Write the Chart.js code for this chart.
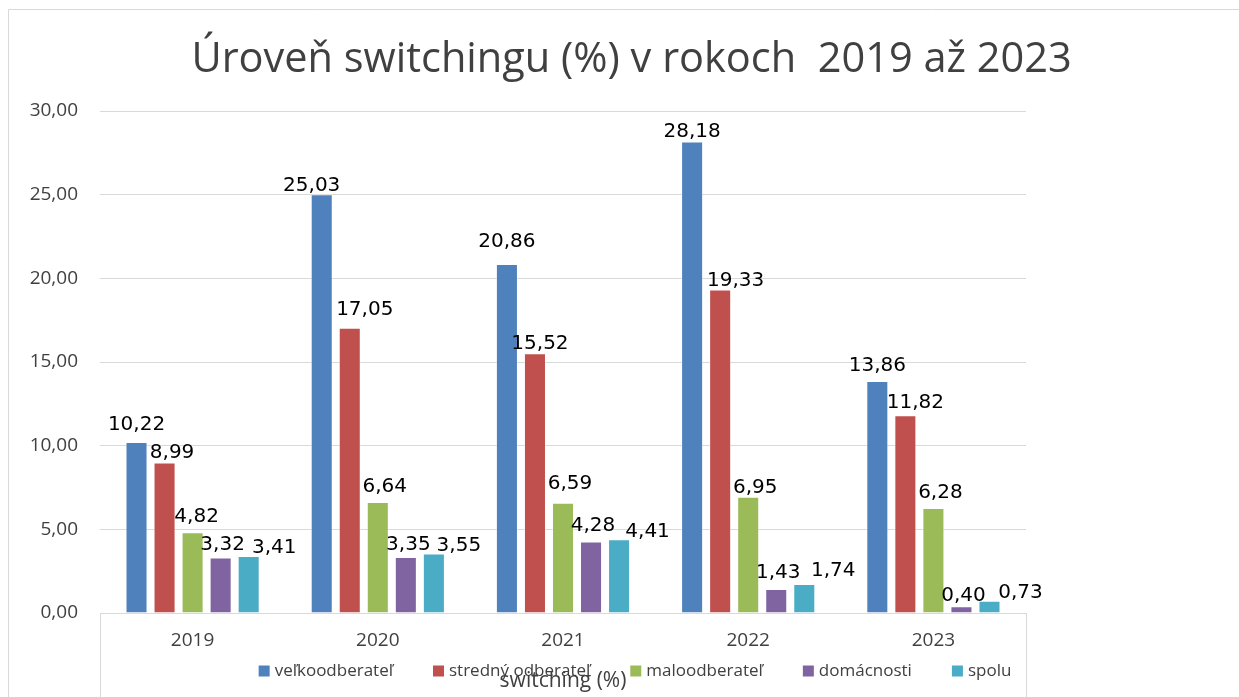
<!DOCTYPE html>
<html>
<head>
<meta charset="utf-8">
<script src="https://cdn.jsdelivr.net/npm/chart.js@4.4.1/dist/chart.umd.min.js"></script>
<style>
html,body{margin:0;padding:0;background:#fff;}
#wrap{position:absolute;left:0;top:0;width:1239px;height:697px;}
</style>
</head>
<body>
<div id="wrap"><canvas id="c" width="1239" height="697"></canvas></div>
<script>
const categories = ['2019', '2020', '2021', '2022', '2023'];
const seriesNames = ['veľkoodberateľ', 'stredný odberateľ', 'maloodberateľ', 'domácnosti', 'spolu'];
const velkoodberatel = [10.22, 25.03, 20.86, 28.18, 13.86];
const strednyOdberatel = [8.99, 17.05, 15.52, 19.33, 11.82];
const maloodberatel = [4.82, 6.64, 6.59, 6.95, 6.28];
const domacnosti = [3.32, 3.35, 4.28, 1.43, 0.40];
const spolu = [3.41, 3.55, 4.41, 1.74, 0.73];
const yTickLabels = ['0,00', '5,00', '10,00', '15,00', '20,00', '25,00', '30,00'];
const colors = ['#4F81BD', '#C0504D', '#9BBB59', '#8064A2', '#4BACC6'];
const chartTitle = 'Úroveň switchingu (%) v rokoch  2019 až 2023';
const xTitle = 'switching (%)';

const seriesData = [velkoodberatel, strednyOdberatel, maloodberatel, domacnosti, spolu];

// manual nudges of the data labels (relative to the bar top, px), as in the original
const labelDx = [
  [0, -10, 0, 0, 0],
  [7.5, 15, 5, 15.5, 10],
  [4, 7, 7, 7, 7],
  [2, 2.5, 2, 2, 2],
  [25.5, 25, 28.5, 29, 31]
];
const labelGap = [
  [12, 3, 17, 4, 10],
  [5, 12.5, 4, 4, 7],
  [10.5, 9.5, 14, 4, 10],
  [7, 6.5, 10, 11.5, 5.5],
  [2.5, 2.5, 2.5, 7.5, 2.5]
];

const fmt = v => v.toFixed(2).replace('.', ',');

const decoPlugin = {
  id: 'deco',
  beforeDraw(chart) {
    const ctx = chart.ctx;
    ctx.save();
    ctx.strokeStyle = '#d9d9d9';
    ctx.lineWidth = 1;
    ctx.beginPath();
    ctx.moveTo(8.5, 697);
    ctx.lineTo(8.5, 9.5);
    ctx.lineTo(1239, 9.5);
    ctx.stroke();
    const a = chart.chartArea;
    ctx.beginPath();
    ctx.moveTo(Math.round(a.left) + 0.5, a.bottom);
    ctx.lineTo(Math.round(a.left) + 0.5, 697);
    ctx.moveTo(Math.round(a.right) + 0.5, a.bottom);
    ctx.lineTo(Math.round(a.right) + 0.5, 697);
    ctx.stroke();
    ctx.restore();
  },
  afterDatasetsDraw(chart) {
    const ctx = chart.ctx;
    ctx.save();
    ctx.font = '20px "DejaVu Sans"';
    ctx.fillStyle = '#000';
    ctx.textAlign = 'center';
    ctx.textBaseline = 'alphabetic';
    chart.data.datasets.forEach((ds, i) => {
      const meta = chart.getDatasetMeta(i);
      meta.data.forEach((el, j) => {
        ctx.fillText(fmt(ds.data[j]), el.x + labelDx[i][j], el.y - labelGap[i][j]);
      });
    });
    // legend
    ctx.font = '17px "Open Sans"';
    ctx.textAlign = 'left';
    ctx.textBaseline = 'middle';
    const box = 11, gapText = 5, gapItem = 40;
    const widths = chart.data.datasets.map(ds => box + gapText + ctx.measureText(ds.label).width);
    const total = widths.reduce((s, w) => s + w, 0) + gapItem * (widths.length - 1);
    let x = 635 - total / 2;
    const ly = 671;
    chart.data.datasets.forEach((ds, i) => {
      ctx.fillStyle = ds.backgroundColor;
      ctx.fillRect(x, ly - box / 2, box, box);
      ctx.fillStyle = '#404040';
      ctx.fillText(ds.label, x + box + gapText, ly);
      x += widths[i] + gapItem;
    });
    // x title
    const a = chart.chartArea;
    ctx.font = '21px "Open Sans"';
    ctx.textAlign = 'center';
    ctx.fillStyle = '#404040';
    ctx.fillText(xTitle, (a.left + a.right) / 2, 681);
    ctx.restore();
  }
};

new Chart(document.getElementById('c'), {
  type: 'bar',
  data: {
    labels: categories,
    datasets: seriesNames.map((n, i) => ({
      label: n,
      data: seriesData[i],
      backgroundColor: colors[i],
      borderColor: 'rgba(255,255,255,0.45)',
      borderWidth: 1,
      categoryPercentage: 0.757,
      barPercentage: 0.786
    }))
  },
  options: {
    responsive: false,
    animation: false,
    layout: { padding: { left: 24, right: 0, top: 0, bottom: 47 } },
    plugins: {
      legend: { display: false },
      tooltip: { enabled: false },
      title: {
        display: true,
        text: chartTitle,
        color: '#404040',
        font: { family: 'Open Sans', size: 41.5, weight: 'normal' },
        padding: { top: 35, bottom: 26.2 }
      }
    },
    scales: {
      x: {
        afterFit(s) { s.height = 37; },
        grid: { display: false, drawTicks: false },
        border: { display: true, color: '#d9d9d9' },
        ticks: { color: '#404040', font: { family: 'Open Sans', size: 19 }, padding: 16 }
      },
      y: {
        min: 0, max: 30,
        afterFit(s) { s.width = 76; },
        grid: { color: '#d9d9d9', drawTicks: false },
        border: { display: false },
        ticks: {
          stepSize: 5,
          padding: 22,
          color: '#404040',
          font: { family: 'Open Sans', size: 19 },
          callback: (v, idx) => yTickLabels[idx]
        }
      },
      yRight: {
        type: 'linear',
        position: 'right',
        afterFit(s) { s.width = 213; },
        grid: { display: false },
        border: { display: false },
        ticks: { display: false }
      }
    }
  },
  plugins: [decoPlugin]
});
</script>
</body>
</html>
